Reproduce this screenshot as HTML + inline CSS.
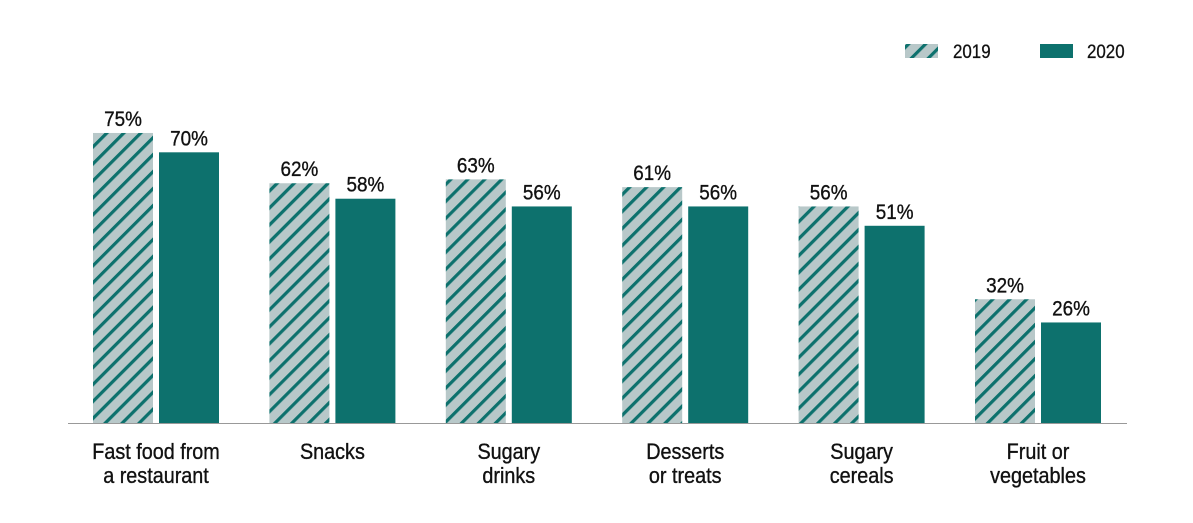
<!DOCTYPE html>
<html><head><meta charset="utf-8"><style>
body{margin:0;background:#fff;}
svg{display:block;font-family:"Liberation Sans",sans-serif;}
</style></head><body>
<svg id="chart" width="1193" height="523" viewBox="0 0 1193 523">
<defs>
<pattern id="hatch" patternUnits="userSpaceOnUse" width="12" height="12" patternTransform="rotate(45)">
<rect width="12" height="12" fill="#b8c8c9"/>
<rect x="0" y="0" width="3.2" height="12" fill="#0d716d"/>
</pattern>
</defs>
<g>
<rect x="905" y="44" width="33" height="14" fill="url(#hatch)"/>
<text transform="translate(953,58) scale(0.89,1)" font-size="19" fill="#111" stroke="#111" stroke-width="0.3">2019</text>
<rect x="1040" y="44" width="33" height="14" fill="#0d716d"/>
<text transform="translate(1087,58) scale(0.89,1)" font-size="19" fill="#111" stroke="#111" stroke-width="0.3">2020</text>
</g>
<g id="bars"></g>
<line x1="68" y1="423.5" x2="1127" y2="423.5" stroke="#999" stroke-width="1"/>
</svg>
<script>
const categories = [["Fast food from","a restaurant"],["Snacks"],["Sugary","drinks"],["Desserts","or treats"],["Sugary","cereals"],["Fruit or","vegetables"]];
const values2019 = [75,62,63,61,56,32];
const values2020 = [70,58,56,56,51,26];
const ns="http://www.w3.org/2000/svg";
const g=document.getElementById('bars');
const base=423, scale=3.867, x0=93, step=176.4, bw=60, gap=6;
const y=v=>base-v*scale;
function mk(tag,attrs){const e=document.createElementNS(ns,tag);for(const k in attrs)e.setAttribute(k,attrs[k]);g.appendChild(e);return e;}
categories.forEach((c,i)=>{
  const xa=x0+i*step, xb=xa+bw+gap;
  [[values2019[i],xa,'url(#hatch)','2019'],[values2020[i],xb,'#0d716d','2020']].forEach(([v,x,f,s])=>{
    const r=mk('rect',{x:x,y:y(v),width:bw,height:v*scale,fill:f});
    
    
    const t=mk('text',{transform:'translate('+(x+bw/2)+','+(y(v)-7)+') scale(0.9,1)','text-anchor':'middle','font-size':21,fill:'#111',stroke:'#111','stroke-width':0.35});
    
    
    t.textContent=v+'%';
  });
  const cx=xa+bw+gap/2;
  const lines = c.length===1 ? [[c[0],459]] : [[c[0],459],[c[1],483]];
  lines.forEach(([s,yy])=>{
    const t=mk('text',{transform:'translate('+cx+','+yy+') scale(0.9,1)','text-anchor':'middle','font-size':22,fill:'#111',stroke:'#111','stroke-width':0.35});
    
    
    t.textContent=s;
  });
});
</script>
</body></html>
